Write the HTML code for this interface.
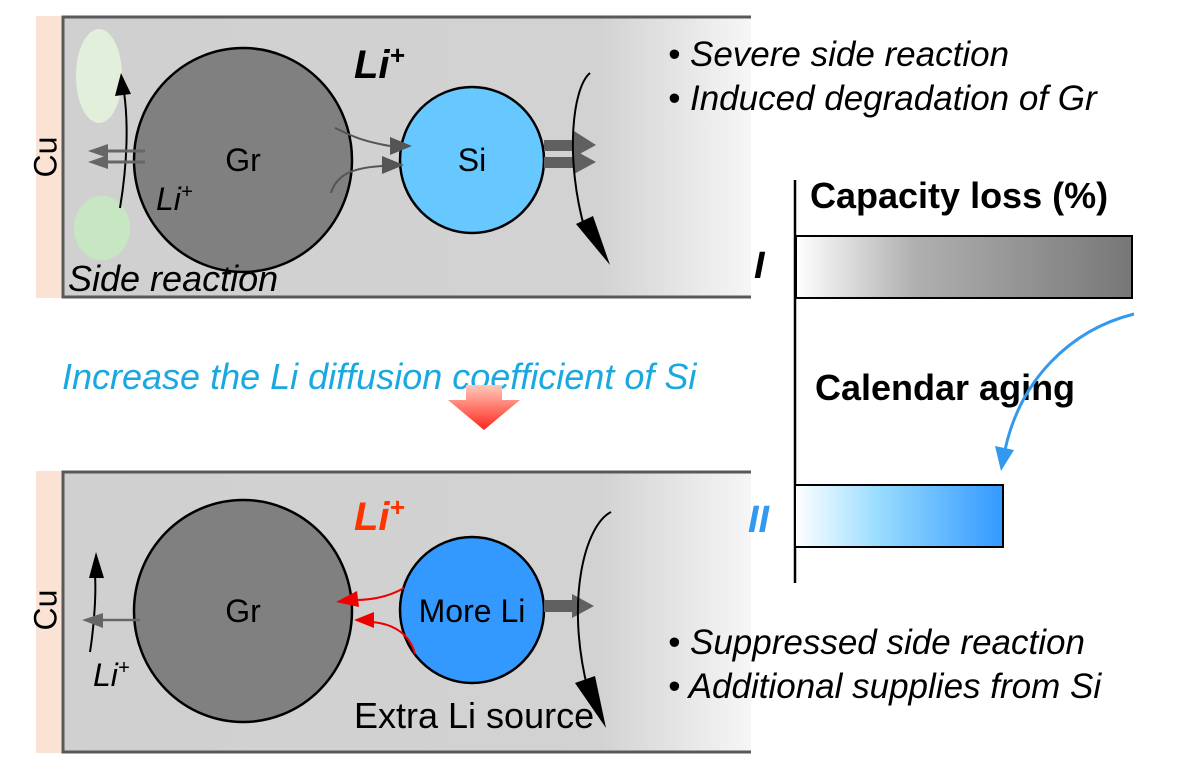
<!DOCTYPE html>
<html><head><meta charset="utf-8"><style>
html,body{margin:0;padding:0;background:#fff;}
svg{display:block;font-family:"Liberation Sans",Arial,sans-serif;}
</style></head><body>
<svg width="1200" height="769" viewBox="0 0 1200 769" xmlns="http://www.w3.org/2000/svg">
<defs>
<linearGradient id="bg" x1="0" x2="1" y1="0" y2="0">
<stop offset="0" stop-color="#d0d0d0"/><stop offset="0.78" stop-color="#d2d2d2"/><stop offset="1" stop-color="#f6f6f6"/>
</linearGradient>
<linearGradient id="b1" x1="0" x2="1"><stop offset="0" stop-color="#fff"/><stop offset="0.35" stop-color="#b0b0b0"/><stop offset="1" stop-color="#777"/></linearGradient>
<linearGradient id="b2" x1="0" x2="1"><stop offset="0" stop-color="#fff"/><stop offset="0.4" stop-color="#99dcff"/><stop offset="1" stop-color="#3399ff"/></linearGradient>
<linearGradient id="ra" x1="0" x2="0" y1="0" y2="1"><stop offset="0" stop-color="#ffc8b8"/><stop offset="1" stop-color="#ff1a10"/></linearGradient>
</defs>

<!-- top panel -->
<rect x="36" y="16" width="27" height="282" fill="#fae3d5"/>
<rect x="63" y="16" width="688" height="282" fill="url(#bg)"/>
<path d="M751,17H63V297H751" fill="none" stroke="#595959" stroke-width="3"/>
<text transform="translate(48,157) rotate(-90)" font-size="32" text-anchor="middle" dominant-baseline="middle">Cu</text>
<ellipse cx="99" cy="76" rx="23" ry="47" fill="#e2efda"/>
<ellipse cx="102" cy="228" rx="28" ry="32" fill="#c6e7c2"/>
<ellipse cx="243" cy="160" rx="109" ry="112" fill="#808080" stroke="#000" stroke-width="2.5"/>
<text x="243" y="171" font-size="32" text-anchor="middle">Gr</text>
<ellipse cx="472" cy="160" rx="72" ry="73" fill="#66c8ff" stroke="#000" stroke-width="2.5"/>
<text x="472" y="171" font-size="32" text-anchor="middle">Si</text>
<text x="354" y="78" font-size="40" font-weight="bold" font-style="italic">Li<tspan font-size="26" dy="-14">+</tspan></text>
<text x="156" y="210" font-size="32" font-style="italic">Li<tspan font-size="20" dy="-12">+</tspan></text>
<text x="68" y="291" font-size="36" font-style="italic">Side reaction</text>
<path d="M120,208 C128,160 128,120 124,92" fill="none" stroke="#000" stroke-width="2"/>
<path d="M115,96 L121,73 L131,94 Z" fill="#000"/>
<path d="M145,151 H104 M145,162 H104" stroke="#666" stroke-width="3"/>
<path d="M88,151 L108,144 L108,158 Z M88,162 L108,155 L108,169 Z" fill="#666"/>
<path d="M335,128 C345,132 355,140 390,146" fill="none" stroke="#555" stroke-width="2"/>
<path d="M412,146 L390,137 L390,155 Z" fill="#555"/>
<path d="M331,193 C336,177 348,168 382,166" fill="none" stroke="#555" stroke-width="2"/>
<path d="M404,165 L382,156 L382,174 Z" fill="#555"/>
<rect x="544" y="140" width="32" height="11" fill="#606060"/>
<path d="M574,131 L596,145 L574,157 Z" fill="#606060"/>
<rect x="544" y="157" width="32" height="11" fill="#606060"/>
<path d="M574,150 L596,162 L574,174 Z" fill="#606060"/>
<path d="M590,73 C572,88 565,160 585,230" fill="none" stroke="#000" stroke-width="2"/>
<path d="M576,224 L610,265 L593,216 Z" fill="#000"/>

<text x="668" y="66" font-size="35" font-style="italic">• Severe side reaction</text>
<text x="668" y="110" font-size="35" font-style="italic">• Induced degradation of Gr</text>

<text x="62" y="389" font-size="36" font-style="italic" fill="#1aa8e0">Increase the Li diffusion coefficient of Si</text>
<path d="M466,385 H502 V400 H520 L484,430 L448,400 H466 Z" fill="url(#ra)" opacity="0.95"/>

<!-- bottom panel -->
<rect x="36" y="471" width="27" height="282" fill="#fae3d5"/>
<rect x="63" y="471" width="688" height="282" fill="url(#bg)"/>
<path d="M751,472H63V752H751" fill="none" stroke="#595959" stroke-width="3"/>
<text transform="translate(48,610) rotate(-90)" font-size="32" text-anchor="middle" dominant-baseline="middle">Cu</text>
<ellipse cx="243" cy="611" rx="109" ry="111" fill="#808080" stroke="#000" stroke-width="2.5"/>
<text x="243" y="622" font-size="32" text-anchor="middle">Gr</text>
<ellipse cx="472" cy="610" rx="72" ry="73" fill="#3399ff" stroke="#000" stroke-width="2.5"/>
<text x="472" y="622" font-size="32" text-anchor="middle">More Li</text>
<text x="354" y="530" font-size="40" font-weight="bold" font-style="italic" fill="#ff3300">Li<tspan font-size="26" dy="-14">+</tspan></text>
<text x="93" y="686" font-size="32" font-style="italic">Li<tspan font-size="20" dy="-12">+</tspan></text>
<text x="354" y="728" font-size="36">Extra Li source</text>
<path d="M90,652 C95,620 96,590 95,575" fill="none" stroke="#000" stroke-width="2"/>
<path d="M89,578 L96,552 L104,578 Z" fill="#000"/>
<line x1="140" y1="620" x2="100" y2="620" stroke="#666" stroke-width="2.5"/>
<path d="M82,620 L103,613 L103,628 Z" fill="#666"/>
<path d="M404,588 C390,596 375,600 355,600" fill="none" stroke="#ee0000" stroke-width="2"/>
<path d="M336,602 L357,591 L359,607 Z" fill="#ee0000"/>
<path d="M415,654 C410,635 395,624 372,622" fill="none" stroke="#ee0000" stroke-width="2"/>
<path d="M354,620 L374,612 L374,628 Z" fill="#ee0000"/>
<rect x="544" y="600" width="30" height="12" fill="#606060"/>
<path d="M572,594 L594,606 L572,618 Z" fill="#606060"/>
<path d="M611,512 C585,525 565,600 588,690" fill="none" stroke="#000" stroke-width="2"/>
<path d="M575,683 L606,728 L595,676 Z" fill="#000"/>

<text x="668" y="654" font-size="35" font-style="italic">• Suppressed side reaction</text>
<text x="668" y="698" font-size="35" font-style="italic">• Additional supplies from Si</text>

<!-- bar chart (drawn last) -->
<line x1="795" y1="180" x2="795" y2="583" stroke="#000" stroke-width="2.5"/>
<text x="810" y="208" font-size="36" font-weight="bold">Capacity loss (%)</text>
<rect x="796" y="236" width="336" height="62" fill="url(#b1)" stroke="#000" stroke-width="2"/>
<text x="754" y="278" font-size="38" font-weight="bold" font-style="italic">I</text>
<text x="815" y="400" font-size="36" font-weight="bold">Calendar aging</text>
<path d="M1134,314 C1070,330 1020,380 1005,450" fill="none" stroke="#3399ee" stroke-width="3"/>
<path d="M995,446 L1014,450 L1001,471 Z" fill="#3399ee"/>
<rect x="795" y="485" width="208" height="62" fill="url(#b2)" stroke="#000" stroke-width="2"/>
<text x="748" y="532" font-size="38" font-weight="bold" font-style="italic" fill="#3399ee">II</text>
</svg>
</body></html>
